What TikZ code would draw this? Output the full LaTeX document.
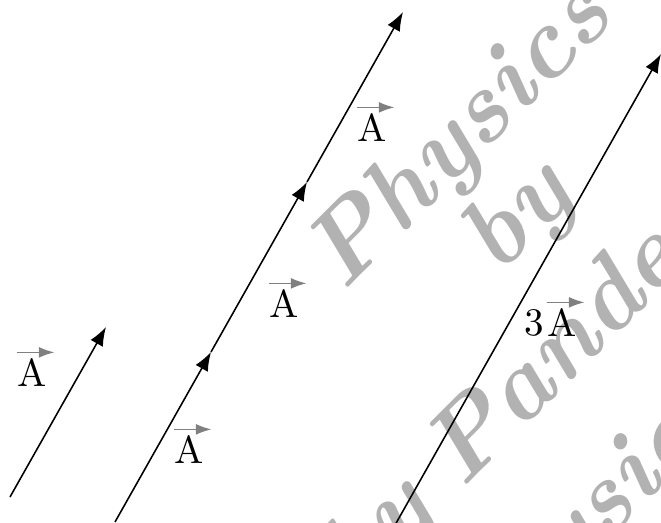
\documentclass[tikz,border=0pt]{standalone}
\usepackage{tikz}
\usetikzlibrary{arrows.meta,calc,positioning}

\begin{document}
\begin{tikzpicture}[
    vec/.style={-{Latex}, thin},
    overarrow/.style={-{Latex[length=4pt,width=2.8pt]}, gray, thin},
    lbl/.style={inner sep=0pt},
    wmark/.style={text=gray!60, font=\fontsize{26}{31}\selectfont\bfseries\itshape, rotate=45, inner sep=0pt}
  ]
    \useasboundingbox (0,0) rectangle (5.949,4.698);
    \clip (0,0) rectangle (5.949,4.698);

    % watermark
    \node[wmark, anchor=base west] (wm1) at (3.087,2.06) {Physics};
    \node[wmark, anchor=base west] (wm2) at (4.482,2.205) {by};
    \node[wmark, anchor=base west] (wm3) at (4.158,0.288) {Pandey};
    \node[wmark, anchor=base east] (wm3b) at (3.938,0.076) {by};
    \node[wmark, anchor=base west] (wm4) at (4.194,-1.449) {Physics};

    % vector A = (0.864,1.53)
    \coordinate (p0) at (0.09,0.225);
    \coordinate (p1) at ($(p0)+(0.864,1.53)$);
    \coordinate (q0) at (1.035,0);
    \coordinate (q1) at ($(q0)+(0.864,1.53)$);
    \coordinate (q2) at ($(q1)+(0.864,1.53)$);
    \coordinate (q3) at ($(q2)+(0.864,1.53)$);
    \coordinate (r0) at (3.357,-0.378);
    \coordinate (r1) at ($(r0)+(2.592,4.59)$);

    \draw[vec] (p0) -- (p1);
    \draw[vec] (q0) -- (q1);
    \draw[vec] (q1) -- (q2);
    \draw[vec] (q2) -- (q3);
    \draw[vec] (r0) -- (r1);

    % labels
    \node[lbl] (a1) at (0.288,1.341) {A};
    \node[lbl] (a2) at (1.701,0.648) {A};
    \node[lbl] (a3) at (2.556,1.962) {A};
    \node[lbl] (a4) at (3.348,3.546) {A};
    \node[lbl] (a5) at (5.058,1.791) {A};
    \node[lbl, left=0.4pt of a5] (k5) {3};

    \foreach \n in {a1,a2,a3,a4,a5}
      \draw[overarrow] ([yshift=1.5pt]\n.north west) -- ([xshift=1.8pt,yshift=1.5pt]\n.north east);
  \end{tikzpicture}
\end{document}
